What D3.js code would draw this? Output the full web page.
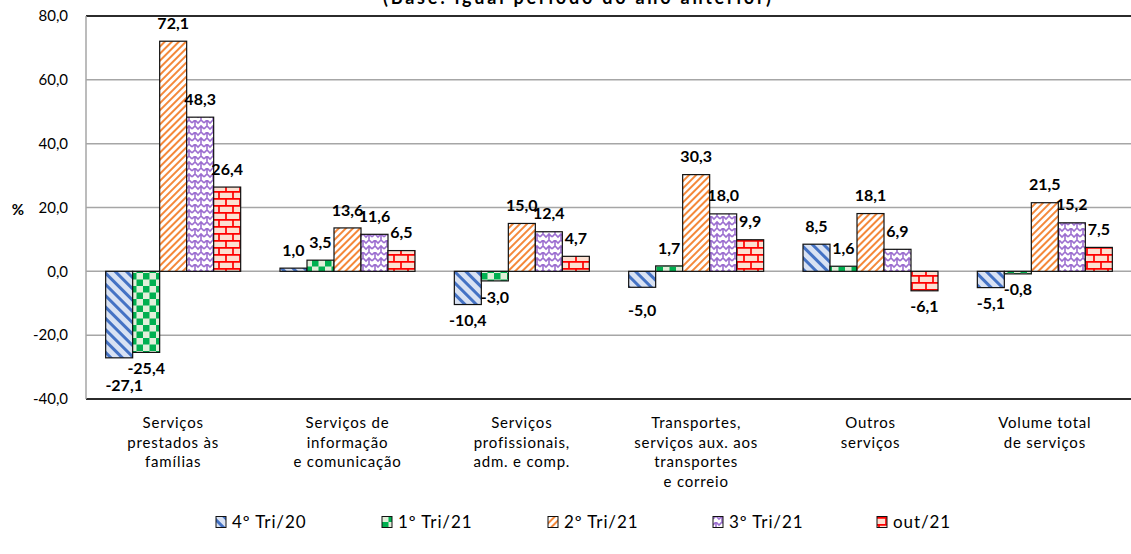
<!DOCTYPE html>
<html>
<head>
<meta charset="utf-8">
<script src="https://cdn.jsdelivr.net/npm/d3@7"></script>
<style>
	body { margin: 0; background: #fff; }
	svg { display: block; font-family: Lato, sans-serif; }
</style>
</head>
<body>
<svg id="chart" width="1131" height="554"></svg>
<script>
var categories = [
	['Serviços', 'prestados às', 'famílias'],
	['Serviços de', 'informação', 'e comunicação'],
	['Serviços', 'profissionais,', 'adm. e comp.'],
	['Transportes,', 'serviços aux. aos', 'transportes', 'e correio'],
	['Outros', 'serviços'],
	['Volume total', 'de serviços']
];
var series = ['4º Tri/20', '1º Tri/21', '2º Tri/21', '3º Tri/21', 'out/21'];

var tri4_20 = [-27.1, 1.0, -10.4, -5.0, 8.5, -5.1];
var tri1_21 = [-25.4, 3.5, -3.0, 1.7, 1.6, -0.8];
var tri2_21 = [72.1, 13.6, 15.0, 30.3, 18.1, 21.5];
var tri3_21 = [48.3, 11.6, 12.4, 18.0, 6.9, 15.2];
var out_21 = [26.4, 6.5, 4.7, 9.9, -6.1, 7.5];

var y_ticks = [-40, -20, 0, 20, 40, 60, 80];
var title = '(Base: igual período do ano anterior)';

var values = [tri4_20, tri1_21, tri2_21, tri3_21, out_21];

var PLOT_LEFT = 86, PLOT_RIGHT = 1132, PLOT_TOP = 16, PLOT_BOTTOM = 399;
var fill_ids = ['p_blue', 'p_green', 'p_orange', 'p_purple', 'p_red'];

var locale = d3.formatLocale({ decimal: ',', thousands: '.', grouping: [3], currency: ['', ''], minus: '-' });
var fmt = locale.format('.1f');

var svg = d3.select('#chart');

function setup_patterns()
{
	var defs = svg.append('defs');

	// blue: wide downward diagonal
	var p = defs.append('pattern').attr('id', 'p_blue').attr('patternUnits', 'userSpaceOnUse')
		.attr('width', 8).attr('height', 8).attr('patternTransform', 'rotate(-45)');
	p.append('rect').attr('width', 8).attr('height', 8).attr('fill', '#d9e2f3');
	p.append('rect').attr('width', 3).attr('height', 8).attr('fill', '#4472c4');

	// green: checkerboard
	p = defs.append('pattern').attr('id', 'p_green').attr('patternUnits', 'userSpaceOnUse')
		.attr('width', 13).attr('height', 13);
	p.append('rect').attr('width', 13).attr('height', 13).attr('fill', '#e2efda');
	p.append('rect').attr('width', 6.5).attr('height', 6.5).attr('fill', '#00b050');
	p.append('rect').attr('x', 6.5).attr('y', 6.5).attr('width', 6.5).attr('height', 6.5).attr('fill', '#00b050');

	// orange: upward diagonal
	p = defs.append('pattern').attr('id', 'p_orange').attr('patternUnits', 'userSpaceOnUse')
		.attr('width', 5).attr('height', 5).attr('patternTransform', 'rotate(45)');
	p.append('rect').attr('width', 5).attr('height', 5).attr('fill', '#fff');
	p.append('rect').attr('width', 2).attr('height', 5).attr('fill', '#f4883a');

	// purple: weave
	p = defs.append('pattern').attr('id', 'p_purple').attr('patternUnits', 'userSpaceOnUse')
		.attr('width', 12).attr('height', 12);
	p.append('rect').attr('width', 12).attr('height', 12).attr('fill', '#fff');
	p.append('path').attr('d', 'M0,3 L3,0 L6,3 L9,0 L12,3 M0,9 L3,6 L6,9 L9,6 L12,9 M3,0 L3,6 M9,6 L9,12')
		.attr('fill', 'none').attr('stroke', '#9c6fd0').attr('stroke-width', 1.6);

	// red: brick
	p = defs.append('pattern').attr('id', 'p_red').attr('patternUnits', 'userSpaceOnUse')
		.attr('width', 14).attr('height', 14).attr('y', 2);
	p.append('rect').attr('width', 14).attr('height', 14).attr('fill', '#fce0d2');
	p.append('path').attr('d', 'M0,0.8 H14 M0,7.8 H14 M2,0 V7 M9,7 V14')
		.attr('fill', 'none').attr('stroke', '#ff0000').attr('stroke-width', 1.7);
}

function setup_axis()
{
	var y = d3.scaleLinear().domain([-40, 80]).range([PLOT_BOTTOM, PLOT_TOP]);

	svg.append('g').selectAll('line').data(y_ticks).join('line')
		.attr('x1', PLOT_LEFT).attr('x2', PLOT_RIGHT)
		.attr('y1', function(d) { return y(d); }).attr('y2', function(d) { return y(d); })
		.attr('stroke', function(d) { return (d == 80 || d == -40) ? '#2b2b2b' : '#a6a6a6'; })
		.attr('stroke-width', function(d) { return (d == 80 || d == -40) ? 2 : 1.5; });

	svg.append('line').attr('x1', PLOT_LEFT).attr('x2', PLOT_LEFT)
		.attr('y1', PLOT_TOP).attr('y2', PLOT_BOTTOM)
		.attr('stroke', '#a6a6a6').attr('stroke-width', 1.5);

	svg.append('g').selectAll('text').data(y_ticks).join('text')
		.attr('x', 68).attr('y', function(d) { return y(d); })
		.attr('dy', '0.35em').attr('text-anchor', 'end')
		.attr('font-size', 15).attr('fill', '#000')
		.text(function(d) { return fmt(d); });

	svg.append('text').attr('x', 18).attr('y', y(20) + 2).attr('dy', '0.35em')
		.attr('text-anchor', 'middle').attr('font-size', 15).attr('font-weight', 'bold')
		.text('%');

	return y;
}

function label_y(d, y)
{
	if(d.v >= 0) return y(d.v) - 18;
	// the two lowest labels sit further down so they do not collide
	if(d.s == 0 && d.c == 0) return y(d.v) + 28;
	if(d.s == 0 && d.c == 3) return y(d.v) + 23;
	return y(d.v) + 16;
}

function draw_bars(y)
{
	var x0 = d3.scaleBand().domain(d3.range(categories.length))
		.range([PLOT_LEFT, PLOT_RIGHT]).paddingInner(0.2256).paddingOuter(0.1128);
	var x1 = d3.scaleBand().domain(d3.range(series.length)).range([0, x0.bandwidth()]);

	var cells = [];
	values.forEach(function(vals, s) {
		vals.forEach(function(v, c) { cells.push({ s: s, c: c, v: v }); });
	});

	svg.append('g').selectAll('rect').data(cells).join('rect')
		.attr('x', function(d) { return x0(d.c) + x1(d.s); })
		.attr('y', function(d) { return y(Math.max(0, d.v)); })
		.attr('width', x1.bandwidth())
		.attr('height', function(d) { return Math.abs(y(d.v) - y(0)); })
		.attr('fill', function(d) { return 'url(#' + fill_ids[d.s] + ')'; })
		.attr('stroke', '#111').attr('stroke-width', 1.2);

	svg.append('g').selectAll('text').data(cells).join('text')
		.attr('x', function(d) { return x0(d.c) + x1(d.s) + x1.bandwidth() / 2 + (d.s == 0 && d.c == 0 ? 5 : 0); })
		.attr('y', function(d) { return label_y(d, y); })
		.attr('dy', '0.35em').attr('text-anchor', 'middle')
		.attr('font-size', 16).attr('font-weight', 'bold').attr('fill', '#000')
		.text(function(d) { return fmt(d.v); });

	var lbl = svg.append('g').selectAll('text').data(categories).join('text')
		.attr('text-anchor', 'middle').attr('font-size', 15).attr('letter-spacing', 0.8)
		.attr('fill', '#000')
		.attr('transform', function(d, i) { return 'translate(' + (x0(i) + x0.bandwidth() / 2) + ',423)'; });
	lbl.selectAll('tspan').data(function(d) { return d; }).join('tspan')
		.attr('x', 0).attr('y', function(d, i) { return i * 19.5; }).attr('dy', '0.35em')
		.text(function(d) { return d; });
}

function draw_legend()
{
	var lx = [216, 382, 548, 713, 877];
	var g = svg.append('g').selectAll('g').data(series).join('g')
		.attr('transform', function(d, i) { return 'translate(' + lx[i] + ',522)'; });
	g.append('rect').attr('x', 0).attr('y', -5.5).attr('width', 10).attr('height', 11)
		.attr('fill', function(d, i) { return 'url(#' + fill_ids[i] + ')'; })
		.attr('stroke', '#111').attr('stroke-width', 1);
	g.append('text').attr('x', 16).attr('dy', '0.35em').attr('font-size', 17)
		.attr('letter-spacing', 0.9).attr('fill', '#000')
		.text(function(d) { return d; });
}

setup_patterns();
var y = setup_axis();
draw_bars(y);
draw_legend();

svg.append('text').attr('x', 577).attr('y', 4).attr('text-anchor', 'middle')
	.attr('font-size', 18).attr('font-weight', 'bold').attr('textLength', 388)
	.text(title);
</script>
</body>
</html>
